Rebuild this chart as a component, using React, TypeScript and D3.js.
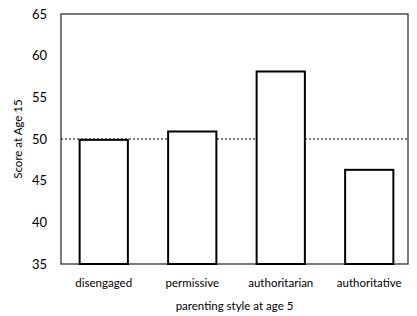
import React, { useEffect, useRef } from "react";
import * as d3 from "d3";

const categories = ["disengaged", "permissive", "authoritarian", "authoritative"];
const scores = [49.9, 50.9, 58.1, 46.3];
const yTicks = [35, 40, 45, 50, 55, 60, 65];
const referenceLine = 50;

const App = () => {
  const ref = useRef<SVGSVGElement>(null);

  useEffect(() => {
    const svg = d3.select(ref.current);
    svg.selectAll("*").remove();

    const left = 61, right = 408, top = 14, bottom = 264;
    const font = "Lato, 'Open Sans', sans-serif";

    const x = d3.scaleBand<string>()
      .domain(categories)
      .range([59.5, 413.5])
      .paddingInner(0.455)
      .paddingOuter(0.2275);
    const y = d3.scaleLinear().domain([35, 65]).range([bottom, top]);

    // frame
    svg.append("rect")
      .attr("x", left).attr("y", top)
      .attr("width", right - left).attr("height", bottom - top)
      .attr("fill", "white").attr("stroke", "#333").attr("stroke-width", 1.3);

    // dotted reference line
    svg.append("line")
      .attr("x1", left).attr("x2", right)
      .attr("y1", y(referenceLine)).attr("y2", y(referenceLine))
      .attr("stroke", "#000").attr("stroke-width", 1)
      .attr("stroke-dasharray", "2,2");

    // bars
    svg.selectAll("rect.bar")
      .data(categories)
      .join("rect")
      .attr("class", "bar")
      .attr("x", d => x(d)!)
      .attr("width", x.bandwidth())
      .attr("y", (d, i) => y(scores[i]))
      .attr("height", (d, i) => y(35) - y(scores[i]))
      .attr("fill", "white")
      .attr("stroke", "#000")
      .attr("stroke-width", 2);

    // y tick labels
    svg.selectAll("text.ytick")
      .data(yTicks)
      .join("text")
      .attr("class", "ytick")
      .attr("x", 47)
      .attr("y", d => y(d))
      .attr("dy", "0.35em")
      .attr("text-anchor", "end")
      .style("font-family", font)
      .style("font-size", "13px")
      .text(d => d);

    // x tick labels
    svg.selectAll("text.xtick")
      .data(categories)
      .join("text")
      .attr("class", "xtick")
      .attr("x", d => x(d)! + x.bandwidth() / 2)
      .attr("y", 287)
      .attr("text-anchor", "middle")
      .style("font-family", font)
      .style("font-size", "11.5px")
      .text(d => d);

    svg.append("text")
      .attr("x", (left + right) / 2)
      .attr("y", 310)
      .attr("text-anchor", "middle")
      .style("font-family", font)
      .style("font-size", "11.5px")
      .text("parenting style at age 5");

    svg.append("text")
      .attr("transform", "rotate(-90)")
      .attr("x", -(top + bottom) / 2)
      .attr("y", 22)
      .attr("text-anchor", "middle")
      .style("font-family", font)
      .style("font-size", "11.5px")
      .text("Score at Age 15");
  }, []);

  return (
    <svg ref={ref} width={417} height={316}
      style={{ position: "absolute", left: 0, top: 0, background: "white" }} />
  );
};

export default App;
